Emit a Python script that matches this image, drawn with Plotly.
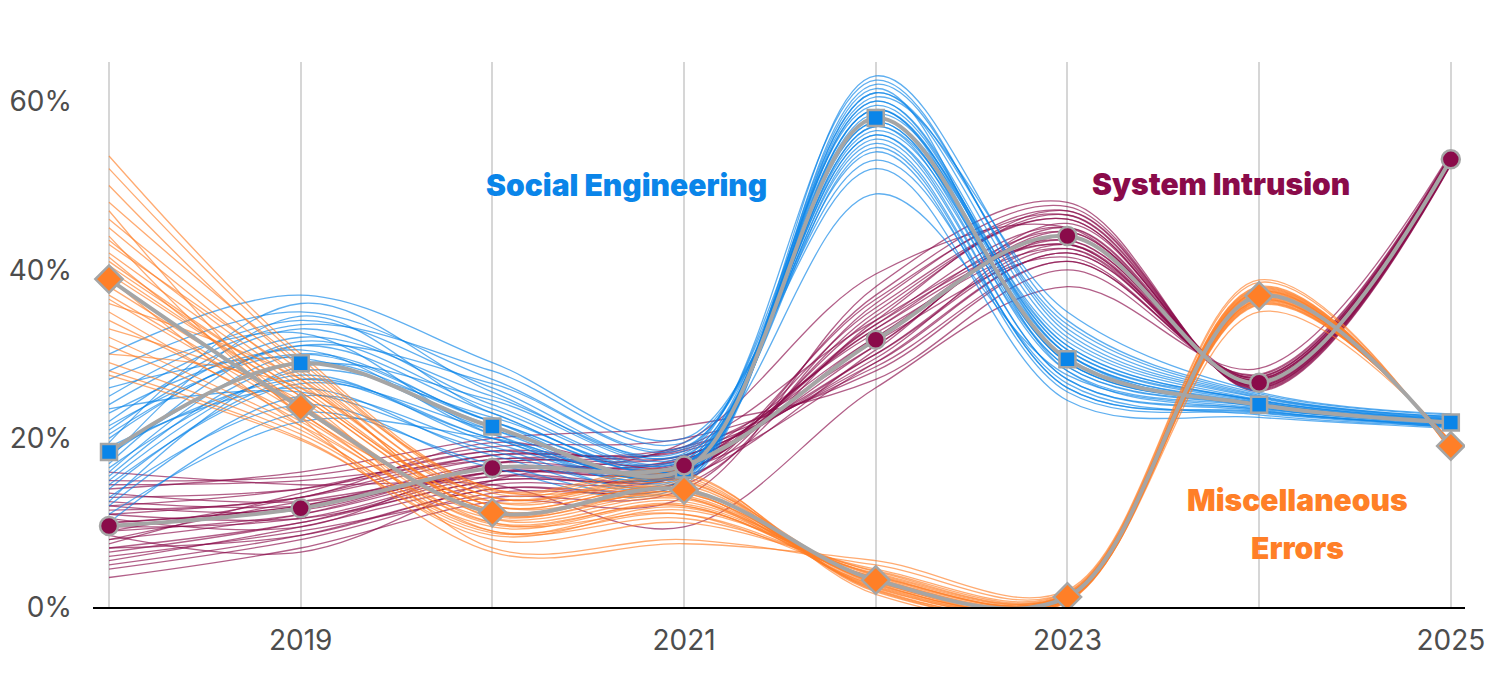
import plotly.graph_objects as go

years = [2018, 2019, 2020, 2021, 2022, 2023, 2024, 2025]

# mean share of breaches per pattern (%)
social_mean = [18.4, 28.9, 21.4, 16.3, 58.0, 29.4, 24.0, 21.9]
intrusion_mean = [9.6, 11.7, 16.5, 16.8, 31.7, 44.0, 26.6, 53.1]
misc_mean = [38.9, 23.7, 11.2, 13.9, 3.2, 1.2, 36.9, 19.1]

# uncertainty draws, one row per draw (values per year)
social_draws = [
    [16, 30, 22, 17, 59, 30, 24.2, 22],
    [20, 31, 23, 16.5, 57, 28, 23.8, 21.8],
    [14, 27, 20, 15.5, 60, 31, 24.5, 22.2],
    [22, 33, 24, 17.5, 56, 27, 23.5, 21.6],
    [12, 25, 19, 15, 61, 32, 24.8, 22.4],
    [25, 34, 26, 18, 55, 26, 23.2, 21.4],
    [18, 29, 21, 16, 58, 29, 24, 22],
    [10, 23, 17, 14.8, 62, 33, 25, 22.6],
    [28, 35, 27, 19, 54, 25.5, 23, 21.3],
    [21, 32, 25, 18.5, 59.5, 30.5, 24.3, 22.1],
    [15, 28, 22.5, 17, 57.5, 28.5, 23.9, 21.9],
    [30, 37, 29, 20, 52, 24.5, 22.5, 21.2],
    [19, 26, 18, 15.2, 63, 34, 25.3, 22.8],
    [23, 30.5, 20.5, 16.8, 56.5, 29.5, 24.1, 22],
    [13, 24, 16.5, 14.5, 60.5, 35, 25.5, 22.9],
    [17, 31.5, 23.5, 17.2, 49, 27.5, 23.6, 21.7],
    [26, 29.5, 21.5, 15.8, 58.5, 31.5, 24.6, 22.3],
    [11, 22, 20, 16.2, 61.5, 28, 23.4, 21.5],
    [24, 33.5, 28, 19.5, 53, 26.5, 22.8, 21.4],
    [16.5, 27.5, 19.5, 16, 57, 30, 24, 22],
    [19.5, 36, 25.5, 18.2, 62.5, 32.5, 24.9, 22.5],
    [14.5, 26.5, 21, 16.6, 55.5, 27, 23.3, 21.6],
    [21.5, 30, 22, 15.6, 59, 29, 24.2, 22.1],
    [12.5, 28.5, 24.5, 17.8, 58, 31, 24.4, 21.9],
    [27, 32.5, 20.5, 16.4, 60, 30, 23.7, 22.2],
    [17.5, 34.5, 23, 17.4, 56, 28.5, 24, 21.8],
    [23.5, 25.5, 18.5, 15.4, 61, 33.5, 25.1, 22.6],
    [15.5, 29, 22, 16.9, 54.5, 26, 23.1, 21.5],
    [20.5, 31, 26.5, 18.8, 57.5, 29, 24.1, 22],
    [18.5, 27, 20, 15.9, 59, 30.5, 24.5, 22.3],
]

intrusion_draws = [
    [9, 11, 16, 16.5, 32, 44, 26.5, 53],
    [11, 13, 17.5, 17.5, 30, 43, 26.8, 53.3],
    [7, 10, 15, 16, 33.5, 45, 26.2, 52.8],
    [13, 14, 18, 18.5, 29, 42, 27, 53.5],
    [5, 8.5, 14, 15, 35, 46, 26, 52.6],
    [10, 12, 16.5, 17, 31, 44.5, 26.6, 53.1],
    [15, 15.5, 19, 20, 28, 41, 27.3, 53.6],
    [6, 9, 13, 14, 36, 47, 25.8, 52.5],
    [12, 11.5, 17, 19, 34, 43.5, 26.9, 53.2],
    [8, 12.5, 15.5, 15.5, 30.5, 45.5, 26.4, 52.9],
    [3.5, 7, 12.5, 13, 38, 48, 25.6, 52.4],
    [14, 16, 20, 21.5, 27, 40, 27.6, 53.8],
    [9.5, 10.5, 16, 17.8, 32.5, 42.5, 26.7, 53.1],
    [7.5, 13.5, 18.5, 16.2, 34.5, 46.5, 26.1, 52.7],
    [16, 14.5, 14.5, 9.5, 26, 38, 28.3, 53.9],
    [10.5, 9.5, 17, 18, 29.5, 44, 27.1, 53.4],
    [4.5, 8, 13.5, 15, 37, 47.5, 25.7, 52.5],
    [12.5, 12, 16, 17, 33, 43, 26.5, 53],
    [8.5, 6.5, 15, 19.5, 39.5, 45, 26.3, 52.8],
    [11.5, 13, 19.5, 16.8, 31.5, 41.5, 27.2, 53.5],
    [10, 12, 17, 17.2, 33, 44.5, 26.6, 53.1],
    [6.5, 10, 15.5, 16, 35.5, 46, 26.2, 52.8],
    [12, 14, 18.5, 18, 30, 42.5, 27, 53.4],
    [8, 11, 16.5, 17.5, 32, 43.5, 26.7, 53.2],
    [13.5, 12.5, 16, 16.3, 29, 42, 27.3, 53.6],
    [5.5, 9.5, 14.5, 15.8, 36.5, 46.5, 25.9, 52.6],
    [9, 13, 18, 18.7, 31, 45, 26.5, 53],
    [11, 10.5, 15, 16, 33.5, 43, 26.8, 53.3],
    [7, 8.5, 14, 14.5, 34, 47, 26, 52.7],
    [14.5, 15, 17.5, 19, 28.5, 41, 27.5, 53.7],
]

misc_draws = [
    [38, 24, 11, 13, 3, 1.2, 37, 19],
    [42, 26, 12, 14, 2.5, 1.0, 36.5, 19.2],
    [35, 22, 10, 12, 3.5, 1.4, 37.3, 18.9],
    [46, 28, 13, 15, 2, 0.8, 36.2, 19.4],
    [31, 21, 9, 11, 4, 1.5, 37.6, 18.8],
    [40, 25, 11.5, 13.5, 3.2, 1.1, 36.9, 19.1],
    [53.5, 30, 14, 16, 1.5, 0.6, 35.8, 19.6],
    [28, 20, 8, 10, 4.5, 1.7, 38, 18.7],
    [44, 23, 12.5, 14.5, 2.8, 0.9, 36.7, 19.3],
    [36, 27, 10.5, 12.5, 3.8, 1.3, 37.1, 19],
    [33, 24.5, 7, 8, 5, 1.8, 38.5, 18.6],
    [48, 29, 13.5, 15.5, 1.8, 0.7, 36, 19.5],
    [39, 21.5, 9.5, 12, 3.3, 1.2, 37.4, 18.9],
    [30, 26, 11, 14, 2.2, 1.0, 36.4, 19.3],
    [47, 22.5, 6.5, 7.5, 5.5, 2, 38.8, 18.5],
    [41, 25.5, 12, 13, 2.6, 1.1, 36.8, 19.2],
    [27.5, 19.8, 8.5, 11.5, 4.2, 1.5, 37.8, 18.8],
    [43, 27.5, 13, 14.8, 3, 0.9, 35, 19.7],
    [37, 23.5, 10, 11, 3.6, 1.4, 37.2, 19],
    [50, 28.5, 14, 13.8, 2.4, 1.0, 36.3, 19.4],
    [39.5, 25, 11.5, 13.2, 3.1, 1.1, 37, 19.1],
    [45, 27, 12.5, 14.2, 2.3, 0.9, 36.4, 19.3],
    [34, 22.5, 9.8, 12.2, 3.7, 1.3, 37.4, 18.9],
    [41.5, 24, 10.8, 13.5, 2.9, 1.2, 36.8, 19.2],
    [32, 21.5, 10.5, 12.8, 3.4, 1.4, 37.5, 18.9],
    [43.5, 26.5, 13, 15.2, 2.1, 0.8, 36.1, 19.4],
    [36.5, 23, 9, 10.5, 4.3, 1.6, 37.9, 18.7],
    [40.5, 25.5, 12, 14, 2.7, 1.0, 36.6, 19.2],
    [29, 20.5, 8.8, 11.8, 3.9, 1.5, 37.7, 18.8],
    [52, 29.5, 13.8, 15.8, 1.9, 0.7, 35.9, 19.6],
]

x_ticks = [2019, 2021, 2023, 2025]
y_ticks = [0, 20, 40, 60]

BLUE = '#0a85e9'
MAROON = '#8a0b4a'
ORANGE = '#ff7f27'
GRAY = '#a5a5a5'

fig = go.Figure()

# thin spaghetti lines first
for draws, color in [(intrusion_draws, MAROON), (social_draws, BLUE), (misc_draws, ORANGE)]:
    for row in draws:
        fig.add_trace(go.Scatter(
            x=years, y=row, mode='lines',
            line=dict(color=color, width=1.3, shape='spline', smoothing=1),
            opacity=0.65, hoverinfo='skip', showlegend=False,
        ))

# mean lines with markers on top
for name, mean, color, symbol, size in [
    ('Social Engineering', social_mean, BLUE, 'square', 16),
    ('System Intrusion', intrusion_mean, MAROON, 'circle', 18),
    ('Miscellaneous Errors', misc_mean, ORANGE, 'diamond', 21),
]:
    fig.add_trace(go.Scatter(
        x=years, y=mean, mode='lines+markers', name=name,
        line=dict(color=GRAY, width=4, shape='spline', smoothing=1),
        marker=dict(symbol=symbol, size=size, color=color, line=dict(color=GRAY, width=2.5)),
        showlegend=False,
    ))

label_font = dict(family='Inter', size=30, weight=900)
fig.add_annotation(x=2020.70, y=50.1, text='Social Engineering', showarrow=False,
                   font=dict(label_font, color=BLUE))
fig.add_annotation(x=2023.80, y=50.2, text='System Intrusion', showarrow=False,
                   font=dict(label_font, color=MAROON))
fig.add_annotation(x=2024.20, y=12.7, text='Miscellaneous', showarrow=False,
                   font=dict(label_font, color=ORANGE))
fig.add_annotation(x=2024.20, y=7.0, text='Errors', showarrow=False,
                   font=dict(label_font, color=ORANGE))

# page has an 8px body margin, so the figure is a bit smaller than the window
fig.update_layout(
    width=1484, height=659,
    margin=dict(l=85, r=27, t=54, b=60),
    paper_bgcolor='white', plot_bgcolor='white',
    font=dict(family='Inter', color='#4d4d4d', size=28),
    showlegend=False,
)
fig.update_xaxes(
    range=[2017.9165, 2025.074],
    tickvals=x_ticks, ticktext=[str(v) for v in x_ticks],
    showgrid=True, gridcolor='#d6d6d6', gridwidth=2,
    minor=dict(tickvals=years, showgrid=True, gridcolor='#d6d6d6', gridwidth=2),
    showline=True, linecolor='black', linewidth=1.5,
    ticks='', ticklabelstandoff=8, zeroline=False, automargin=False,
)
fig.update_yaxes(
    range=[0, 64.65],
    tickvals=y_ticks, ticktext=[f'{v}%' for v in y_ticks],
    showgrid=False, zeroline=False, showline=False,
    ticks='', ticklabelstandoff=20, automargin=False,
)

fig.write_html("out.html")
